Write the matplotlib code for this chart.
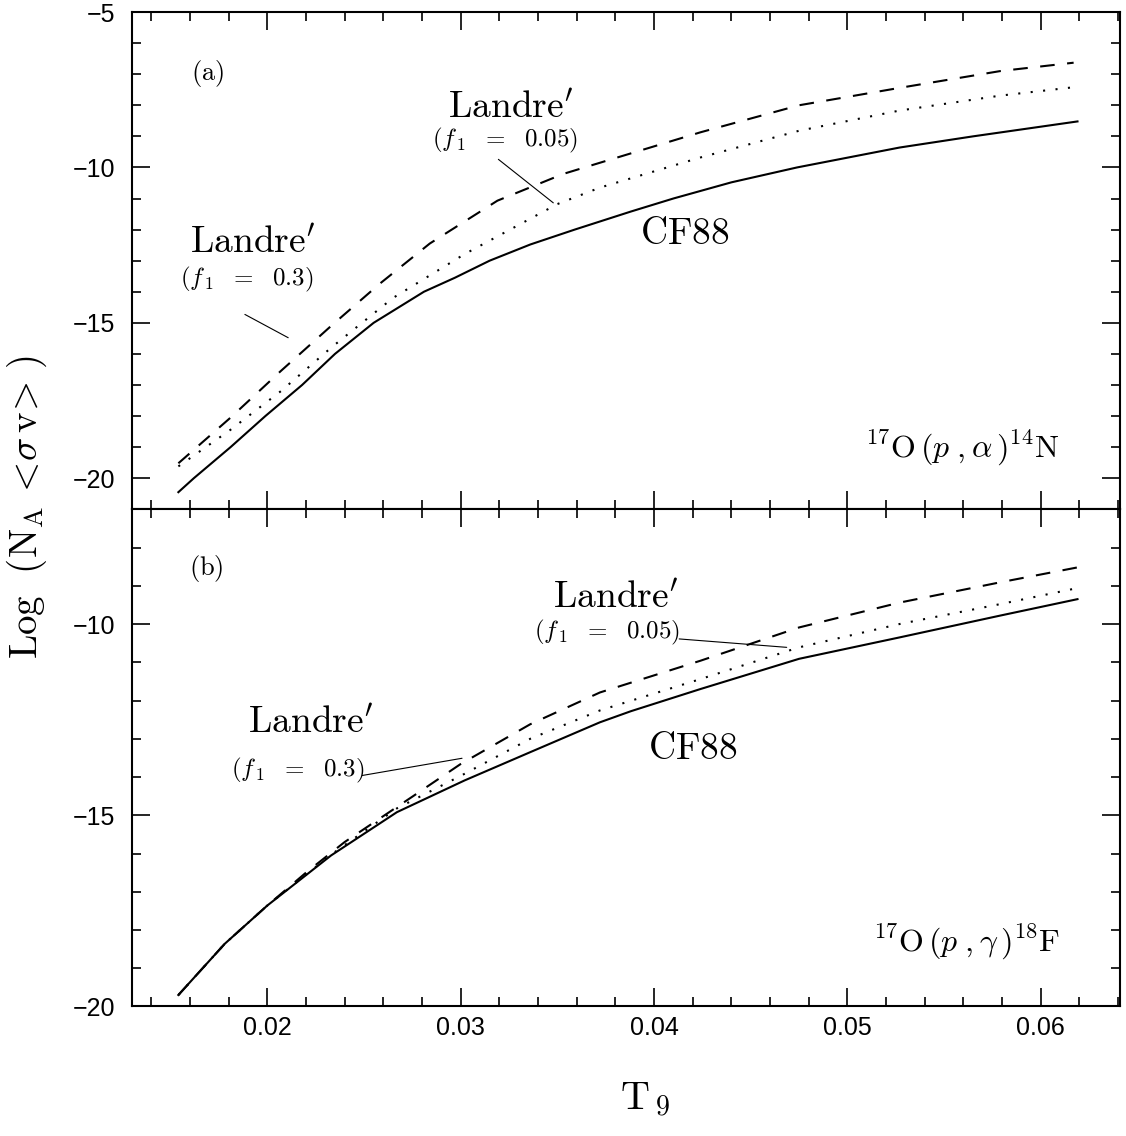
import matplotlib
matplotlib.use('Agg')
import matplotlib.pyplot as plt
from matplotlib.ticker import MultipleLocator

# (a) 17O(p,alpha)14N
t9_a_cf88 = [0.0154, 0.0162, 0.0181, 0.0199, 0.0218, 0.0235, 0.0255, 0.0281, 0.0297, 0.0315, 0.0336, 0.0359, 0.0388, 0.0410, 0.0440, 0.0474, 0.0527, 0.0565, 0.0619]
rate_a_cf88 = [-20.45, -20.0, -19.0, -18.0, -17.0, -16.0, -15.0, -14.0, -13.55, -13.0, -12.48, -12.0, -11.42, -11.0, -10.48, -10.0, -9.36, -9.0, -8.52]

t9_a_l03 = [0.0154, 0.0181, 0.0207, 0.0233, 0.0258, 0.0284, 0.0319, 0.0353, 0.0372, 0.0424, 0.0475, 0.0527, 0.0579, 0.0617]
rate_a_l03 = [-19.52, -18.05, -16.55, -15.10, -13.75, -12.45, -11.07, -10.21, -9.85, -8.87, -8.0, -7.44, -6.9, -6.63]

t9_a_l005 = [0.0154, 0.0181, 0.0207, 0.0233, 0.0265, 0.0302, 0.0350, 0.0372, 0.0424, 0.0475, 0.0527, 0.0579, 0.0617]
rate_a_l005 = [-19.62, -18.44, -17.2, -15.8, -14.2, -12.79, -11.18, -10.65, -9.68, -8.82, -8.17, -7.69, -7.42]

# (b) 17O(p,gamma)18F
t9_b_cf88 = [0.0154, 0.0178, 0.0200, 0.0233, 0.0267, 0.0302, 0.0336, 0.0372, 0.0388, 0.0424, 0.0475, 0.0527, 0.0579, 0.0619]
rate_b_cf88 = [-19.70, -18.36, -17.36, -16.05, -14.92, -14.09, -13.35, -12.57, -12.28, -11.70, -10.91, -10.35, -9.78, -9.35]

t9_b_l03 = [0.0154, 0.0178, 0.0200, 0.0220, 0.0240, 0.0276, 0.0300, 0.0336, 0.0372, 0.0424, 0.0475, 0.0527, 0.0579, 0.0619]
rate_b_l03 = [-19.70, -18.36, -17.36, -16.50, -15.70, -14.48, -13.66, -12.62, -11.79, -10.96, -10.09, -9.44, -8.91, -8.52]

t9_b_l005 = [0.0154, 0.0178, 0.0200, 0.0233, 0.0267, 0.0300, 0.0336, 0.0372, 0.0424, 0.0475, 0.0527, 0.0579, 0.0619]
rate_b_l005 = [-19.70, -18.36, -17.36, -16.03, -14.82, -13.97, -13.0, -12.26, -11.44, -10.61, -10.0, -9.48, -9.06]

x_range = (0.013, 0.0641)
y_range_a = (-21, -5)
y_range_b = (-20, -7)

plt.rcParams['font.family'] = ['Liberation Sans', 'DejaVu Sans']
plt.rcParams['mathtext.fontset'] = 'cm'

dashed = (0, (7, 6))
dotted = (0, (1, 5))

fig, axes = plt.subplots(2, 1, figsize=(11.26, 11.36), dpi=100, sharex=True)
fig.subplots_adjust(left=0.1172, right=0.9947, top=0.9894, bottom=0.114, hspace=0)
ax1, ax2 = axes

ax1.plot(t9_a_cf88, rate_a_cf88, color='k', lw=1.5)
ax1.plot(t9_a_l03, rate_a_l03, color='k', lw=1.5, linestyle=dashed)
ax1.plot(t9_a_l005, rate_a_l005, color='k', lw=1.5, linestyle=dotted)

ax2.plot(t9_b_cf88, rate_b_cf88, color='k', lw=1.5)
ax2.plot(t9_b_l03, rate_b_l03, color='k', lw=1.5, linestyle=dashed)
ax2.plot(t9_b_l005, rate_b_l005, color='k', lw=1.5, linestyle=dotted)

ax1.set_ylim(*y_range_a)
ax2.set_ylim(*y_range_b)
ax2.set_xlim(*x_range)

for ax in axes:
    ax.xaxis.set_major_locator(MultipleLocator(0.01))
    ax.xaxis.set_minor_locator(MultipleLocator(0.002))
    ax.yaxis.set_major_locator(MultipleLocator(5))
    ax.yaxis.set_minor_locator(MultipleLocator(1))
    ax.tick_params(which='both', direction='in', top=True, right=True, width=1.2, labelsize=18)
    ax.tick_params(which='major', length=13)
    ax.tick_params(which='minor', length=6.5)
    ax.tick_params(axis='y', pad=12)
    ax.tick_params(axis='x', pad=7)
    for s in ax.spines.values():
        s.set_linewidth(1.5)

serif = 27
small = 18
landre = r"$\mathrm{Landre}'$"
line_kw = dict(arrowstyle='-', lw=0.8, color='k', shrinkA=0, shrinkB=0)

# panel (a) labels
ax1.text(0.01692, -6.98, r'$(\mathrm{a})$', fontsize=19, ha='center', va='center')
ax1.text(0.03257, -8.08, landre, fontsize=serif, ha='center', va='center')
ax1.text(0.03231, -9.14, r"$(f_{\,1}\ \ =\ \ 0.05)$", fontsize=small, ha='center', va='center')
ax1.annotate('', xy=(0.03479, -11.14), xytext=(0.03195, -9.74), arrowprops=line_kw)
ax1.text(0.01924, -12.43, landre, fontsize=serif, ha='center', va='center')
ax1.text(0.01893, -13.59, r"$(f_{\,1}\ \ =\ \ 0.3)$", fontsize=small, ha='center', va='center')
ax1.annotate('', xy=(0.02108, -15.48), xytext=(0.01884, -14.73), arrowprops=line_kw)
ax1.text(0.04156, -12.14, r"$\mathrm{CF88}$", fontsize=serif, ha='center', va='center')
ax1.text(0.05596, -19.04, r"$^{17}\mathrm{O}\,(p\;,\alpha\,)^{14}\mathrm{N}$", fontsize=23, ha='center', va='center')

# panel (b) labels
ax2.text(0.01682, -8.56, r'$(\mathrm{b})$', fontsize=19, ha='center', va='center')
ax2.text(0.03804, -9.31, landre, fontsize=serif, ha='center', va='center')
ax2.text(0.03758, -10.23, r"$(f_{\,1}\ \ =\ \ 0.05)$", fontsize=small, ha='center', va='center')
ax2.annotate('', xy=(0.04686, -10.61), xytext=(0.0413, -10.39), arrowprops=line_kw)
ax2.text(0.02224, -12.60, landre, fontsize=serif, ha='center', va='center')
ax2.text(0.02157, -13.83, r"$(f_{\,1}\ \ =\ \ 0.3)$", fontsize=small, ha='center', va='center')
ax2.annotate('', xy=(0.03007, -13.51), xytext=(0.02491, -13.96), arrowprops=line_kw)
ax2.text(0.04202, -13.28, r"$\mathrm{CF88}$", fontsize=serif, ha='center', va='center')
ax2.text(0.05617, -18.32, r"$^{17}\mathrm{O}\,(p\;,\gamma\,)^{18}\mathrm{F}$", fontsize=23, ha='center', va='center')

fig.text(0.024, 0.554, r"$\mathrm{Log}\ \ (\mathrm{N}_{\mathrm{A}}\,<\!\sigma\,\mathrm{v}\!>\,)$",
         fontsize=28, rotation=90, ha='center', va='center')
fig.text(0.573, 0.032, r"$\mathrm{T}_{\,9}$", fontsize=29, ha='center', va='center')

fig.savefig('out.png', dpi=100)
